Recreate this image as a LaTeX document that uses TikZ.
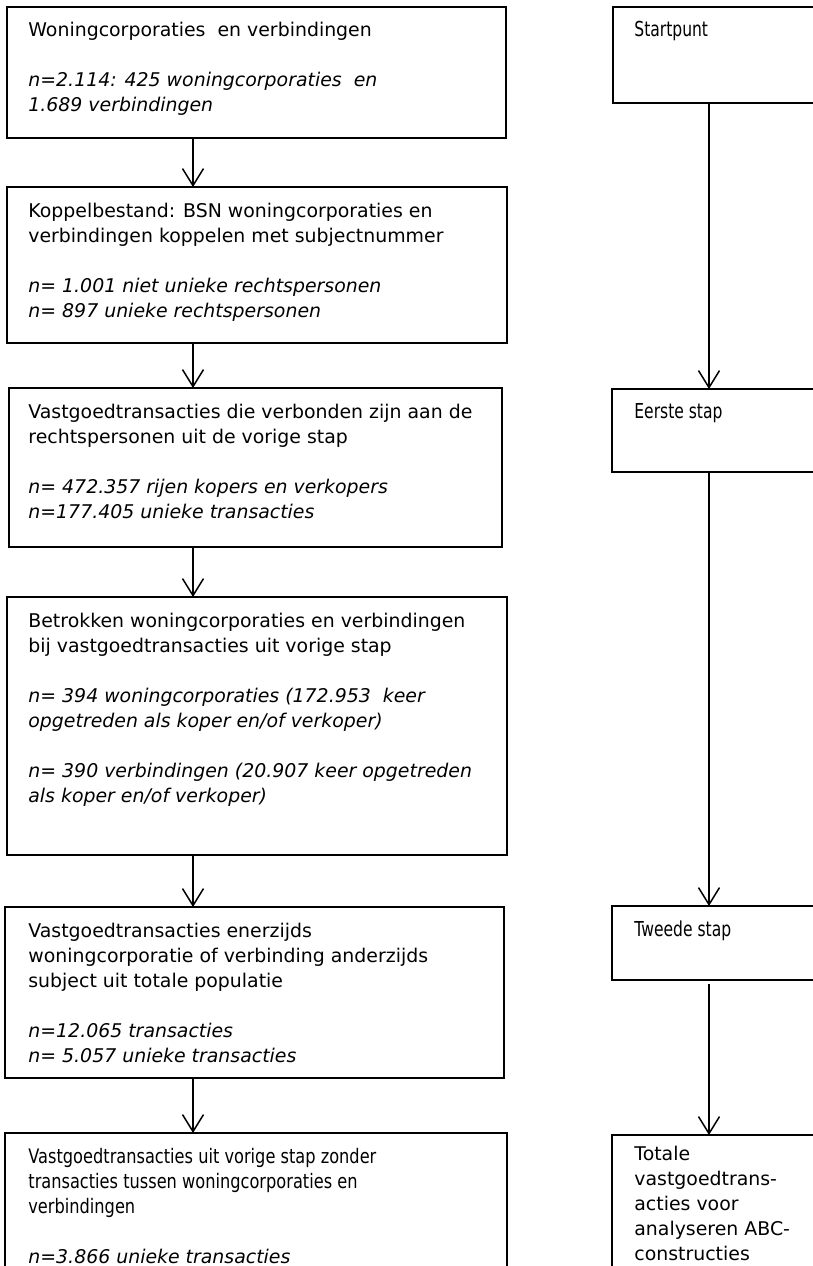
\documentclass[tikz,border=0pt]{standalone}
\usepackage{fontspec}
\setmainfont{DejaVu Sans}
\newfontfamily\narrowfont[FakeStretch=0.81]{DejaVu Sans}
\newfontfamily\tallfont[FakeStretch=0.755]{DejaVu Sans}
\usetikzlibrary{arrows.meta}
\newcommand\midsize{\fontsize{9.45pt}{12.5pt}\selectfont}
\newcommand\narrowsize{\narrowfont\fontsize{10pt}{12.5pt}\selectfont}
\newcommand\tallsize{\tallfont\fontsize{10.3pt}{12.5pt}\selectfont}
\tikzset{
  stepframe/.style={draw, line width=1pt, anchor=north west, inner sep=0pt, outer sep=0pt},
  steptext/.style={anchor=north west, inner sep=0pt, align=left, font=\midsize},
  narrowtext/.style={steptext, font=\narrowsize},
  talltext/.style={steptext, font=\tallsize},
  flow/.style={line width=0.75pt, -{Straight Barb[length=8.5pt,width=10.5pt]}}
}
\begin{document}
\begin{tikzpicture}[x=0.5pt,y=-0.5pt]
\useasboundingbox (0,0) rectangle (813,1266);
\coordinate (lx) at (193,0);
\coordinate (rx) at (709,0);
% linker kolom
\node[stepframe, minimum width=249.5pt, minimum height=65.5pt] (wc) at (7,7) {};
\node[steptext] (wctxt) at ([shift={(10.5pt,-7.4pt)}]wc.north west)
  {Woningcorporaties\ \ en verbindingen\\[12.5pt]
   \textit{n=2.114: 425 woningcorporaties\ \ en}\\
   \textit{1.689 verbindingen}};
\node[stepframe, minimum width=250pt, minimum height=78pt] (kop) at (7,187) {};
\node[steptext] (koptxt) at ([shift={(10.5pt,-7.8pt)}]kop.north west)
  {Koppelbestand: BSN woningcorporaties en\\
   verbindingen koppelen met subjectnummer\\[12.5pt]
   \textit{n= 1.001 niet unieke rechtspersonen}\\
   \textit{n= 897 unieke rechtspersonen}};
\node[stepframe, minimum width=246.5pt, minimum height=79.5pt] (vgt) at (9,388) {};
\node[steptext] (vgttxt) at ([shift={(9.5pt,-7.8pt)}]vgt.north west)
  {Vastgoedtransacties die verbonden zijn aan de\\
   rechtspersonen uit de vorige stap\\[12.5pt]
   \textit{n= 472.357 rijen kopers en verkopers}\\
   \textit{n=177.405 unieke transacties}};
\node[stepframe, minimum width=250pt, minimum height=129pt] (btr) at (7,597) {};
\node[steptext] (btrtxt) at ([shift={(10.5pt,-7.8pt)}]btr.north west)
  {Betrokken woningcorporaties en verbindingen\\
   bij vastgoedtransacties uit vorige stap\\[12.5pt]
   \textit{n= 394 woningcorporaties (172.953\ \ keer}\\
   \textit{opgetreden als koper en/of verkoper)}\\[12.5pt]
   \textit{n= 390 verbindingen (20.907 keer opgetreden}\\
   \textit{als koper en/of verkoper)}};
\node[stepframe, minimum width=249.5pt, minimum height=85.5pt] (ene) at (5,907) {};
\node[steptext] (enetxt) at ([shift={(11.5pt,-7.8pt)}]ene.north west)
  {Vastgoedtransacties enerzijds\\
   woningcorporatie of verbinding anderzijds\\
   subject uit totale populatie\\[12.5pt]
   \textit{n=12.065 transacties}\\
   \textit{n= 5.057 unieke transacties}};
\node[stepframe, minimum width=251pt, minimum height=134pt] (zon) at (5,1133) {};
\node[narrowtext] (zontxt) at ([shift={(11.5pt,-7.4pt)}]zon.north west)
  {Vastgoedtransacties uit vorige stap zonder\\
   transacties tussen woningcorporaties en\\
   verbindingen\\[12.5pt]
   {\rmfamily\midsize\itshape n=3.866 unieke transacties}};
% rechter kolom
\node[stepframe, minimum width=108.5pt, minimum height=48pt] (start) at (613,7) {};
\node[talltext] (starttxt) at ([shift={(10.5pt,-7pt)}]start.north west) {Startpunt};
\node[stepframe, minimum width=109pt, minimum height=41.5pt] (een) at (612,389) {};
\node[talltext] (eentxt) at ([shift={(11pt,-7pt)}]een.north west) {Eerste stap};
\node[stepframe, minimum width=109pt, minimum height=37pt] (twee) at (612,906) {};
\node[talltext] (tweetxt) at ([shift={(11pt,-7pt)}]twee.north west) {Tweede stap};
\node[stepframe, minimum width=109pt, minimum height=134pt] (tot) at (612,1135) {};
\node[steptext] (tottxt) at ([shift={(11pt,-5.5pt)}]tot.north west)
  {Totale\\ vastgoedtrans-\\ acties voor\\ analyseren ABC-\\ constructies};
% pijlen
\draw[flow] (wc.south -| lx) -- (kop.north -| lx);
\draw[flow] (kop.south -| lx) -- (vgt.north -| lx);
\draw[flow] (vgt.south -| lx) -- (btr.north -| lx);
\draw[flow] (btr.south -| lx) -- (ene.north -| lx);
\draw[flow] (ene.south -| lx) -- (zon.north -| lx);
\draw[flow] (start.south -| rx) -- (een.north -| rx);
\draw[flow] (een.south -| rx) -- (twee.north -| rx);
\draw[flow, shorten <=2pt] (twee.south -| rx) -- (tot.north -| rx);
\end{tikzpicture}
\end{document}
